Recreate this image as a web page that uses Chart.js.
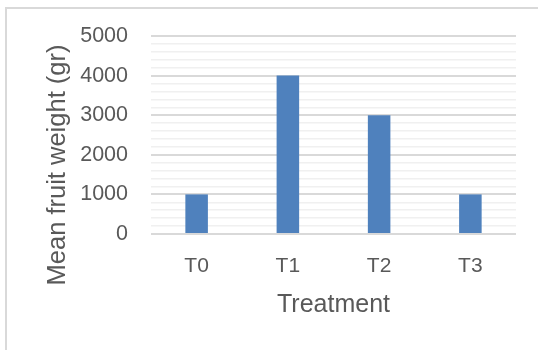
<!DOCTYPE html>
<html>
<head>
<meta charset="utf-8">
<script src="https://cdn.jsdelivr.net/npm/chart.js@4/dist/chart.umd.min.js"></script>
<style>
  html, body { margin: 0; padding: 0; background: #ffffff; }
  #wrap { position: relative; width: 538px; height: 350px; overflow: hidden; }
  #frame { position: absolute; left: 5px; top: 7px; width: 700px; height: 500px;
           border-left: 2px solid #d9d9d9; border-top: 2px solid #d9d9d9; }
  #chart { position: absolute; left: 0; top: 0; }
</style>
</head>
<body>
<div id="wrap">
  <div id="frame"></div>
  <canvas id="chart" width="538" height="350"></canvas>
</div>
<script>
// Mean fruit weight per treatment
const categories = ['T0', 'T1', 'T2', 'T3'];
const meanWeight = [1000, 4000, 3000, 1000];
const yTickValues = [0, 1000, 2000, 3000, 4000, 5000];
const yTitle = 'Mean fruit weight (gr)';
const xTitle = 'Treatment';

const FONT = '"Liberation Sans", Arial, sans-serif';
const TEXT = '#595959';

// Vertical axis title, set a little lower than the plot centre
const yTitlePlugin = {
  id: 'yTitle',
  afterDraw(chart) {
    const ctx = chart.ctx;
    const area = chart.chartArea;
    ctx.save();
    ctx.translate(58, (area.top + area.bottom) / 2 + 30);
    ctx.rotate(-Math.PI / 2);
    ctx.fillStyle = TEXT;
    ctx.font = '25.5px ' + FONT;
    ctx.textAlign = 'center';
    ctx.textBaseline = 'middle';
    ctx.fillText(yTitle, 0, 0);
    ctx.restore();
  }
};

new Chart(document.getElementById('chart'), {
  type: 'bar',
  data: {
    labels: categories,
    datasets: [{
      label: yTitle,
      data: meanWeight,
      backgroundColor: '#4f81bd',
      borderWidth: 0,
      categoryPercentage: 1,
      barPercentage: 0.247
    }]
  },
  options: {
    responsive: false,
    animation: false,
    devicePixelRatio: 1,
    layout: { padding: { left: 33, right: 22, top: 36, bottom: 0 } },
    plugins: { legend: { display: false }, tooltip: { enabled: false } },
    scales: {
      x: {
        grid: { display: false, drawTicks: false },
        border: { display: false },
        ticks: { color: TEXT, font: { family: FONT, size: 21 }, padding: 20 },
        title: {
          display: true, text: xTitle, color: TEXT,
          font: { family: FONT, size: 25 }, padding: { top: 0, bottom: 30 }
        },
        afterFit: (s) => { s.height = 116; }
      },
      y: {
        min: 0, max: 5000,
        grid: {
          drawTicks: false,
          color: (c) => (c.tick && yTickValues.includes(c.tick.value)) ? '#d9d9d9' : '#f0f0f0',
          lineWidth: (c) => (c.tick && yTickValues.includes(c.tick.value)) ? 2 : 1.5
        },
        border: { display: false },
        ticks: {
          stepSize: 200, autoSkip: false, color: TEXT,
          font: { family: FONT, size: 21.5 }, padding: 23,
          callback: (v) => yTickValues.includes(v) ? String(v) : ''
        },
        afterFit: (s) => { s.width = 118; }
      }
    }
  },
  plugins: [yTitlePlugin]
});
</script>
</body>
</html>
